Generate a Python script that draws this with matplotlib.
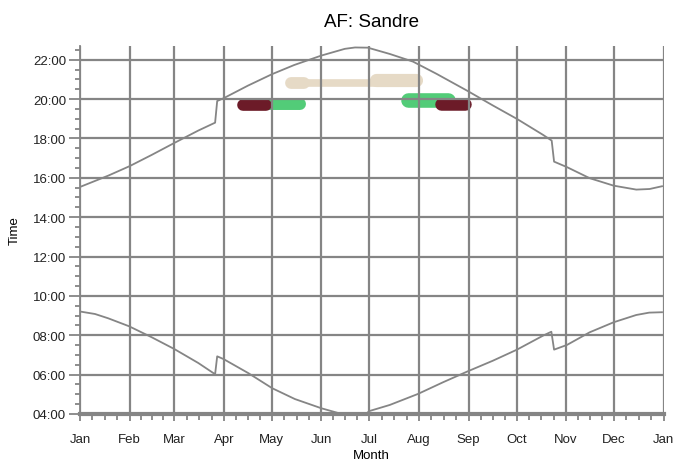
import matplotlib
matplotlib.use("Agg")
import matplotlib.pyplot as plt
from matplotlib.ticker import FixedLocator, MultipleLocator, FuncFormatter

plt.rcParams['font.family'] = ['Liberation Sans', 'DejaVu Sans']

# ---- data (day of year, 0 = 1 Jan; hours of day) ----
month_starts = [0, 31, 59, 90, 120, 151, 181, 212, 243, 273, 304, 334, 365]
month_labels = ['Jan', 'Feb', 'Mar', 'Apr', 'May', 'Jun', 'Jul', 'Aug',
                'Sep', 'Oct', 'Nov', 'Dec', 'Jan']

sunset_days = [0.5, 17.7, 31, 44.8, 59, 74, 84.5, 85.8, 89.8, 105, 120, 134,
               151, 165.6, 172, 180, 193.75, 208.3, 223, 242, 258.3, 273.3,
               289.6, 295, 296.5, 304.6, 318.75, 333.75, 347.9, 356.25, 364]
sunset_hours = [15.55, 16.11, 16.59, 17.16, 17.77, 18.40, 18.80, 19.90, 20.04,
                20.68, 21.26, 21.73, 22.21, 22.55, 22.62, 22.61, 22.29, 21.90,
                21.28, 20.43, 19.67, 18.99, 18.18, 17.89, 16.82, 16.54, 15.98,
                15.60, 15.40, 15.43, 15.57]

sunrise_days = [0.5, 9.4, 17.7, 30.6, 44.8, 59, 74, 84.5, 85.8, 89.8, 105.2,
                120.2, 134.4, 151, 161.5, 168, 175, 179, 181, 193.75, 211.4,
                227, 242, 258.3, 273.3, 289.6, 294.8, 296.5, 304.6, 318.75,
                333.75, 347.9, 356, 364]
sunrise_hours = [9.20, 9.08, 8.86, 8.46, 7.90, 7.30, 6.59, 6.02, 6.93, 6.79,
                 6.08, 5.31, 4.76, 4.29, 4.05, 3.95, 3.95, 4.02, 4.15, 4.46,
                 5.02, 5.61, 6.15, 6.71, 7.27, 7.98, 8.18, 7.27, 7.51, 8.15,
                 8.66, 9.03, 9.15, 9.17]

# observation strokes: (start day, end day, hour)
tan_strokes = [(131.8, 140.0, 20.82), (138.0, 186.0, 20.80), (185.3, 210.3, 20.99)]
tan_widths = [8.5, 5.5, 9.5]
green_strokes = [(117.5, 137.5, 19.75), (205.4, 230.0, 19.93)]
green_widths = [8.6, 10.5]
red_strokes = [(102.2, 116.5, 19.71), (225.8, 240.9, 19.75)]
red_widths = [8.4, 9.0]

# ---- figure ----
fig = plt.figure(figsize=(6.77, 4.64), dpi=100)
ax = fig.add_axes([80 / 677, 49 / 464, 583.6 / 677, 368.5 / 464])

gray = '#858585'

for (d0, d1, h), w in zip(tan_strokes, tan_widths):
    ax.plot([d0, d1], [h, h], color='#e6dac6', lw=w, solid_capstyle='round', zorder=1)
for (d0, d1, h), w in zip(green_strokes, green_widths):
    ax.plot([d0, d1], [h, h], color='#52cc78', lw=w, solid_capstyle='round', zorder=1.1)
for (d0, d1, h), w in zip(red_strokes, red_widths):
    ax.plot([d0, d1], [h, h], color='#6c1b28', lw=w, solid_capstyle='round', zorder=1.2)

ax.plot(sunset_days, sunset_hours, color=gray, lw=1.3, zorder=3)
ax.plot(sunrise_days, sunrise_hours, color=gray, lw=1.3, zorder=3)

ax.set_xlim(0, 365)
ax.set_ylim(4, 22.72)

ax.xaxis.set_major_locator(FixedLocator(month_starts))
ax.set_xticklabels(month_labels)
minor_x = []
for a, b in zip(month_starts[:-1], month_starts[1:]):
    for k in (1, 2, 3):
        minor_x.append(a + (b - a) * k / 4)
ax.xaxis.set_minor_locator(FixedLocator(minor_x))

ax.yaxis.set_major_locator(MultipleLocator(2))
ax.yaxis.set_minor_locator(MultipleLocator(0.5))
ax.yaxis.set_major_formatter(FuncFormatter(lambda v, p: '%02d:00' % int(round(v))))

ax.set_axisbelow(False)
ax.grid(True, which='major', color=gray, lw=1.6, zorder=2)

for s in ('top', 'right'):
    ax.spines[s].set_visible(False)
ax.spines['left'].set_color(gray)
ax.spines['left'].set_linewidth(1.3)
ax.spines['bottom'].set_color(gray)
ax.spines['bottom'].set_linewidth(3)

ax.tick_params(axis='y', which='major', length=8, width=1.3, color=gray,
               labelsize=9.5, labelcolor='#222222', pad=2)
ax.tick_params(axis='y', which='minor', length=3.5, width=1.3, color=gray)
ax.tick_params(axis='x', which='major', length=5, width=1.3, color=gray,
               labelsize=9.5, labelcolor='#222222', pad=8.5)
ax.tick_params(axis='x', which='minor', length=4, width=1.3, color=gray)

ax.set_title('AF: Sandre', fontsize=13.5, pad=14)
ax.set_ylabel('Time', fontsize=9.5, labelpad=9)
ax.set_xlabel('Month', fontsize=9.5, labelpad=3)

fig.savefig('out.png', dpi=100)
